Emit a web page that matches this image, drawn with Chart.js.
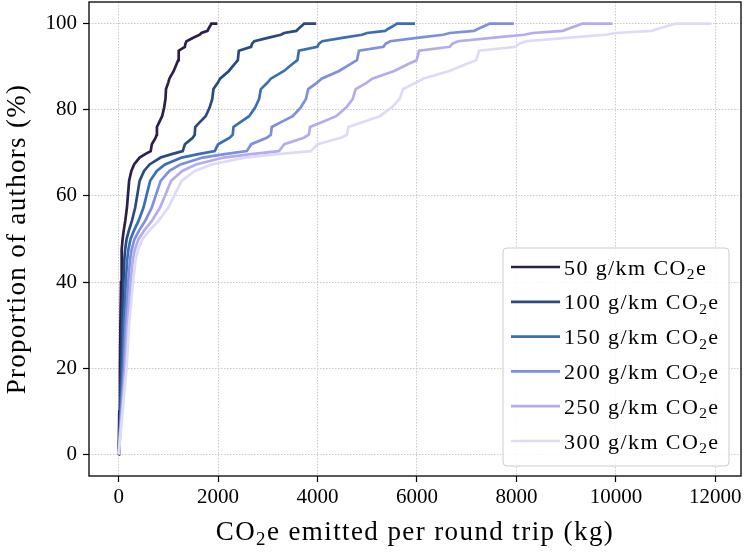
<!DOCTYPE html>
<html>
<head>
<meta charset="utf-8">
<script src="https://cdn.jsdelivr.net/npm/chart.js@4.4.1/dist/chart.umd.min.js"></script>
<style>
  html, body { margin: 0; padding: 0; background: #fff; }
</style>
</head>
<body>
<canvas id="c" width="744" height="552"></canvas>
<script>
// proportion of authors (%) shared by all curves
const percentiles = [0, 5, 10, 20, 30, 40, 45, 47.5, 50, 52, 54.2, 57.3, 60.4, 63.5, 65.8, 67.3, 68.9, 69.7,
  70.4, 72.0, 73.5, 74.2, 76.0, 77.0, 78.5, 80.5, 82.5, 84.8, 86.3, 87.2, 89, 90.6, 91.5, 93.7, 94.6,
  95.3, 95.9, 96.8, 97.4, 97.8, 98.3, 98.8, 99.7, 100, 100];

// kg CO2e per round trip, one array per emission factor
const co2_50 = [0, 7, 13, 27, 35, 48, 57, 65, 80, 103, 133, 167, 189, 211, 256, 311, 422, 533,
  645, 667, 745, 765, 770, 812, 875, 915, 942, 953, 998, 1020, 1108, 1165, 1198, 1208, 1332,
  1342, 1365, 1520, 1632, 1665, 1787, 1808, 1853, 1865, 1987];
const co2_100 = [0, 13, 27, 53, 70, 97, 113, 130, 160, 207, 267, 333, 378, 422, 511, 622, 844, 1067,
  1289, 1333, 1490, 1530, 1540, 1623, 1750, 1830, 1883, 1907, 1997, 2040, 2217, 2330, 2397, 2417, 2663,
  2683, 2730, 3040, 3263, 3330, 3573, 3617, 3707, 3730, 3973];
const co2_150 = [0, 20, 40, 80, 105, 145, 170, 195, 240, 310, 400, 500, 567, 634, 767, 934, 1267, 1600,
  1934, 2000, 2235, 2295, 2310, 2435, 2625, 2745, 2825, 2860, 2995, 3060, 3325, 3495, 3595, 3625, 3995,
  4025, 4095, 4560, 4895, 4995, 5360, 5425, 5560, 5595, 5960];
const co2_200 = [0, 27, 53, 107, 140, 193, 227, 260, 320, 413, 533, 667, 755, 845, 1022, 1245, 1689, 2133,
  2578, 2667, 2980, 3060, 3080, 3247, 3500, 3660, 3767, 3813, 3993, 4080, 4433, 4660, 4793, 4833, 5327,
  5367, 5460, 6080, 6527, 6660, 7147, 7233, 7413, 7460, 7947];
const co2_250 = [0, 33, 67, 133, 175, 242, 283, 325, 400, 517, 667, 833, 944, 1056, 1278, 1556, 2111, 2667,
  3223, 3333, 3725, 3825, 3850, 4058, 4375, 4575, 4708, 4767, 4992, 5100, 5542, 5825, 5992, 6042, 6658,
  6708, 6825, 7600, 8158, 8325, 8933, 9042, 9267, 9325, 9933];
const co2_300 = [0, 40, 80, 160, 210, 290, 340, 390, 480, 620, 800, 1000, 1133, 1267, 1533, 1867, 2533, 3200,
  3867, 4000, 4470, 4590, 4620, 4870, 5250, 5490, 5650, 5720, 5990, 6120, 6650, 6990, 7190, 7250, 7990,
  8050, 8190, 9120, 9790, 9990, 10720, 10850, 11120, 11190, 11920];

const factors = ['50', '100', '150', '200', '250', '300'];
const seriesValues = [co2_50, co2_100, co2_150, co2_200, co2_250, co2_300];
const seriesColors = ['#2d1e4c', '#2b4a7e', '#3b6fb4', '#7e8fe0', '#b4acf0', '#dddbf8'];

const xTicks = [0, 2000, 4000, 6000, 8000, 10000, 12000];
const yTicks = [0, 20, 40, 60, 80, 100];

const SERIF = '"Liberation Serif", "Times New Roman", serif';

// draws text with a subscript "2" (CO2e)
function drawRich(ctx, parts, x, y, size, align, spacing) {
  ctx.save();
  ctx.letterSpacing = spacing + 'px';
  ctx.textBaseline = 'alphabetic';
  ctx.textAlign = 'left';
  ctx.fillStyle = '#000';
  const widths = parts.map(p => {
    ctx.font = (p.sub ? size * 0.7 : size) + 'px ' + SERIF;
    return ctx.measureText(p.text).width;
  });
  const total = widths.reduce((a, b) => a + b, 0);
  let cx = align === 'center' ? x - total / 2 : x;
  parts.forEach((p, i) => {
    ctx.font = (p.sub ? size * 0.7 : size) + 'px ' + SERIF;
    ctx.fillText(p.text, cx, p.sub ? y + size * 0.2 : y);
    cx += widths[i];
  });
  ctx.restore();
}

const framePlugin = {
  id: 'frame',
  afterDraw(chart) {
    const { ctx, chartArea: ca } = chart;
    ctx.save();
    ctx.strokeStyle = '#000';
    ctx.lineWidth = 1.3;
    ctx.strokeRect(ca.left, ca.top, ca.right - ca.left, ca.bottom - ca.top);
    ctx.restore();

    // axis titles
    drawRich(ctx, [{ text: 'CO' }, { text: '2', sub: true }, { text: 'e emitted per round trip (kg)' }],
      (ca.left + ca.right) / 2, 540, 27, 'center', 1.4);
    ctx.save();
    ctx.translate(25, (ca.top + ca.bottom) / 2);
    ctx.rotate(-Math.PI / 2);
    drawRich(ctx, [{ text: 'Proportion of authors (%)' }], 0, 0, 27, 'center', 1.3);
    ctx.restore();

    // legend, lower right inside the axes
    const boxW = 226, boxH = 218;
    const bx = ca.right - 12 - boxW, by = ca.bottom - 10 - boxH;
    ctx.save();
    ctx.beginPath();
    ctx.roundRect(bx, by, boxW, boxH, 4);
    ctx.fillStyle = 'rgba(255,255,255,0.85)';
    ctx.fill();
    ctx.strokeStyle = '#cccccc';
    ctx.lineWidth = 1;
    ctx.stroke();
    factors.forEach((f, i) => {
      const cy = by + 19 + i * 34.8;
      ctx.beginPath();
      ctx.moveTo(bx + 8, cy);
      ctx.lineTo(bx + 57, cy);
      ctx.strokeStyle = seriesColors[i];
      ctx.lineWidth = 2.7;
      ctx.stroke();
      drawRich(ctx, [{ text: f + ' g/km CO' }, { text: '2', sub: true }, { text: 'e' }],
        bx + 61, cy + 7.5, 22, 'left', 1.4);
    });
    ctx.restore();
  }
};

const datasets = factors.map((f, i) => ({
  label: f + ' g/km CO\u2082e',
  data: seriesValues[i].map((x, j) => ({ x: x, y: percentiles[j] })),
  borderColor: seriesColors[i],
  backgroundColor: seriesColors[i],
  borderWidth: 2.7,
  pointRadius: 0,
  tension: 0,
  fill: false,
  order: factors.length - i
}));

const gridStyle = {
  color: '#c4c4c4',
  lineWidth: 0.9,
  tickColor: '#000',
  tickLength: 6,
  tickWidth: 1.2,
  tickBorderDash: []
};
const borderStyle = { display: false, dash: [1.5, 1.5] };

new Chart(document.getElementById('c'), {
  type: 'line',
  data: { datasets },
  plugins: [framePlugin],
  options: {
    responsive: false,
    animation: false,
    devicePixelRatio: 1,
    layout: { padding: { top: 2, right: 3, left: 0, bottom: 0 } },
    plugins: {
      legend: { display: false },
      tooltip: { enabled: false }
    },
    scales: {
      x: {
        type: 'linear',
        min: -596,
        max: 12516,
        afterBuildTicks: (s) => { s.ticks = xTicks.map(v => ({ value: v })); },
        afterFit: (s) => { s.height = 76; s.paddingLeft = 0; s.paddingRight = 0; },
        grid: gridStyle,
        border: borderStyle,
        ticks: {
          color: '#000',
          padding: 3,
          maxRotation: 0,
          font: { family: SERIF, size: 21 },
          callback: (v) => String(v)
        }
      },
      y: {
        type: 'linear',
        min: -5,
        max: 105,
        afterBuildTicks: (s) => { s.ticks = yTicks.map(v => ({ value: v })); },
        afterFit: (s) => { s.width = 89; s.paddingTop = 0; s.paddingBottom = 0; },
        grid: gridStyle,
        border: borderStyle,
        ticks: {
          color: '#000',
          padding: 6,
          font: { family: SERIF, size: 21 },
          callback: (v) => String(v)
        }
      }
    }
  }
});
</script>
</body>
</html>
